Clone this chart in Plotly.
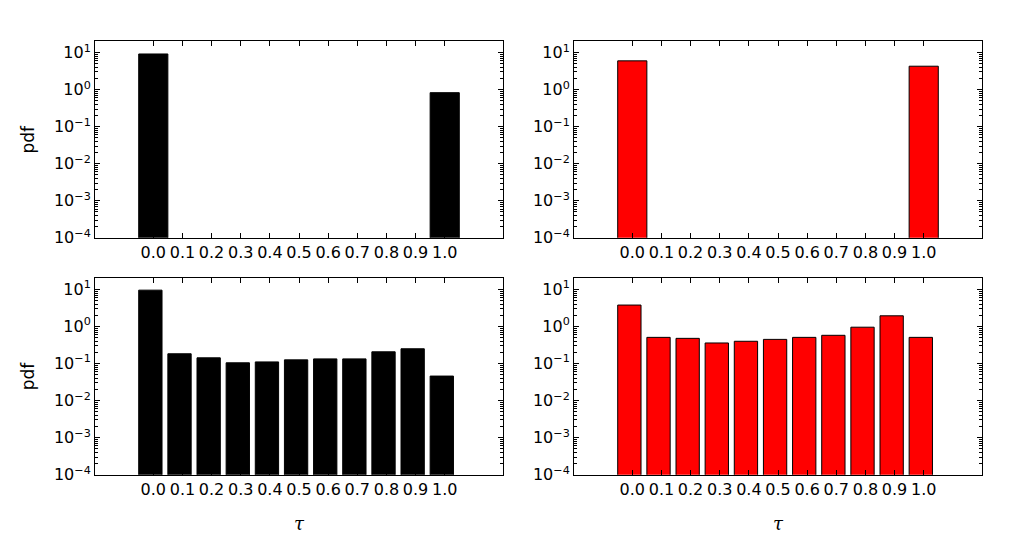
import plotly.graph_objects as go

# ---- data ----
tau = [0.0, 0.1, 0.2, 0.3, 0.4, 0.5, 0.6, 0.7, 0.8, 0.9, 1.0]
tau_ends = [0.0, 1.0]
pdf_top_black = [9.2, 0.83]
pdf_top_red = [6.0, 4.3]
pdf_bottom_black = [9.6, 0.184, 0.143, 0.105, 0.111, 0.126, 0.134, 0.134, 0.208, 0.251, 0.046]
pdf_bottom_red = [3.8, 0.51, 0.48, 0.36, 0.40, 0.45, 0.51, 0.58, 0.96, 1.95, 0.51]
x_tick_labels = ["0.0", "0.1", "0.2", "0.3", "0.4", "0.5", "0.6", "0.7", "0.8", "0.9", "1.0"]
y_decades = [-4, -3, -2, -1, 0, 1]

W, H = 1018, 550          # reference frame
FIG_H = 562               # rendered height (compensates the vertical fit of the viewer)
FONT = "DejaVu Sans"

fig = go.Figure()

def px_x(p):
    return p / W

def px_y(p):
    return 1 - p / H

cols = [(95, 503), (574, 982)]
rows = [(41, 237), (277, 473)]

panels = [
    (0, 0, tau_ends, pdf_top_black, "black", 0.1),
    (0, 1, tau_ends, pdf_top_red, "red", 0.1),
    (1, 0, tau, pdf_bottom_black, "black", 0.08),
    (1, 1, tau, pdf_bottom_red, "red", 0.08),
]

y_tickvals = [10.0 ** d for d in y_decades]
y_ticktext = ["10<sup>%s</sup>" % (("\u2212%d" % -d) if d < 0 else str(d)) for d in y_decades]
minor_vals = [m * 10.0 ** d for d in range(-4, 2) for m in range(2, 10)]

for i, (r, c, xs, ys, color, w) in enumerate(panels):
    idx = i + 1
    xa = "x" if idx == 1 else "x%d" % idx
    ya = "y" if idx == 1 else "y%d" % idx
    fig.add_trace(go.Bar(
        x=xs, y=ys, width=w, offset=-0.05,
        marker=dict(color=color, line=dict(color="black", width=1)),
        xaxis=xa, yaxis=ya, showlegend=False, hoverinfo="skip",
    ))
    xkey = "xaxis" if idx == 1 else "xaxis%d" % idx
    ykey = "yaxis" if idx == 1 else "yaxis%d" % idx
    x0, x1 = cols[c]
    y0, y1 = rows[r]
    fig.update_layout(**{
        xkey: dict(
            domain=[px_x(x0), px_x(x1)], anchor=ya, range=[-0.2, 1.2],
            tickmode="array", tickvals=tau, ticktext=x_tick_labels,
            ticks="inside", ticklen=5, tickwidth=1, tickcolor="black",
            showline=True, linecolor="black", linewidth=1, mirror="ticks",
            showgrid=False, zeroline=False,
            tickfont=dict(family=FONT, size=16, color="black"),
        ),
        ykey: dict(
            domain=[px_y(y1), px_y(y0)], anchor=xa, type="log", range=[-4, 1.31],
            tickmode="array", tickvals=y_tickvals, ticktext=y_ticktext,
            ticks="inside", ticklen=5, tickwidth=1, tickcolor="black",
            minor=dict(tickmode="array", tickvals=minor_vals, ticks="inside",
                       ticklen=3, tickwidth=1, tickcolor="black", showgrid=False),
            showline=True, linecolor="black", linewidth=1, mirror="ticks",
            showgrid=False, zeroline=False,
            tickfont=dict(family=FONT, size=16, color="black"),
        ),
    })

annotations = []
for (y0, y1) in rows:
    annotations.append(dict(
        text="pdf", x=px_x(28), y=px_y((y0 + y1) / 2), xref="paper", yref="paper",
        showarrow=False, textangle=-90, xanchor="center", yanchor="middle",
        font=dict(family=FONT, size=17, color="black"),
    ))
for (x0, x1) in cols:
    annotations.append(dict(
        text="<i>τ</i>", x=px_x((x0 + x1) / 2), y=px_y(522), xref="paper", yref="paper",
        showarrow=False, xanchor="center", yanchor="middle",
        font=dict(family="DejaVu Serif", size=18, color="black"),
    ))

fig.update_layout(
    width=W, height=FIG_H, autosize=False,
    margin=dict(l=0, r=0, t=0, b=0),
    paper_bgcolor="white", plot_bgcolor="white",
    bargap=0, barmode="overlay",
    annotations=annotations,
)

fig.write_html(
    "out.html",
    config={"responsive": False, "displayModeBar": False, "staticPlot": True},
    post_script="document.body.style.margin='0';document.body.style.overflow='hidden';",
)
